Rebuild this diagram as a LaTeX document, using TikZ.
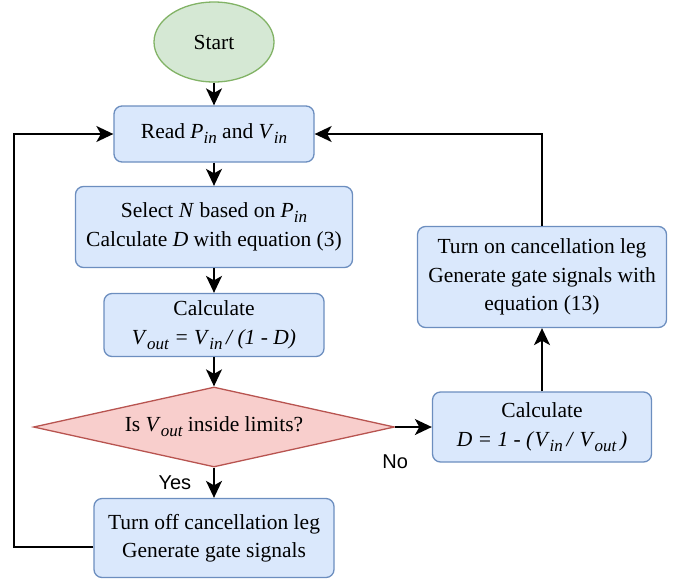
\documentclass[tikz,border=0pt]{standalone}
\usepackage{fontspec}
\setmainfont{Liberation Serif}
\newfontfamily\labelfont{Liberation Sans}
\usetikzlibrary{shapes.geometric,positioning,arrows.meta}
\definecolor{startfill}{HTML}{D5E8D4}
\definecolor{startline}{HTML}{82B366}
\definecolor{boxfill}{HTML}{DAE8FC}
\definecolor{boxline}{HTML}{6C8EBF}
\definecolor{decfill}{HTML}{F8CECC}
\definecolor{decline}{HTML}{B85450}
\newcommand{\vsub}[2]{\textit{#1}\raisebox{-5pt}{\fontsize{17}{17}\selectfont\itshape #2}}

\begin{document}
\begin{tikzpicture}[x=1pt, y=-1pt,
    font=\fontsize{21.5}{28.5}\selectfont,
    startnode/.style={draw=startline, fill=startfill, ellipse, line width=1.3pt, minimum width=120pt, minimum height=80pt},
    stepbox/.style={draw=boxline, fill=boxfill, rectangle, rounded corners=8pt, line width=1.3pt, align=center},
    decnode/.style={draw=decline, fill=decfill, diamond, aspect=4.5, inner sep=0pt, line width=1.3pt, minimum width=361pt, minimum height=80pt},
    flow/.style={line width=1.6pt, -{Stealth[length=17pt, width=16pt, inset=4.5pt]}},
    lbl/.style={font=\labelfont\fontsize{20}{24}\selectfont, inner sep=0pt}]
    \useasboundingbox (0,0) rectangle (684,584);

    % main column
    \node[startnode] (start) at (214,42) {Start};
    \node[stepbox, below of=start, node distance=92pt, minimum width=200pt, minimum height=56pt] (read) {Read \vsub{P}{in} and \vsub{V}{in}};
    \node[stepbox, below of=read, node distance=93pt, minimum width=277pt, minimum height=81pt] (select) {Select \textit{N} based on \vsub{P}{in}\\Calculate \textit{D} with equation (3)};
    \node[stepbox, below of=select, node distance=98pt, minimum width=220pt, minimum height=63pt] (calcvout) {Calculate\\\vsub{V}{out} \textit{= }\vsub{V}{in}\textit{\,/ (1 - D)}};
    \node[decnode, below of=calcvout, node distance=102pt] (check) {Is \vsub{V}{out} inside limits?};
    \node[stepbox, below of=check, node distance=111pt, minimum width=240pt, minimum height=79pt] (legoff) {Turn off cancellation leg\\Generate gate signals};

    % right column
    \node[stepbox, right of=check, node distance=328pt, minimum width=219pt, minimum height=70pt] (calcd) {Calculate\\\textit{D = 1 - (}\vsub{V}{in}\textit{\,/ }\vsub{V}{out}\textit{\,)}};
    \node[stepbox, above of=calcd, node distance=150pt, minimum width=249pt, minimum height=101pt] (legon) {Turn on cancellation leg\\Generate gate signals with\\equation (13)};

    \coordinate (loopl) at (14,340);

    % connections
    \draw[flow] (start) -- (read);
    \draw[flow] (read) -- (select);
    \draw[flow] (select) -- (calcvout);
    \draw[flow] (calcvout) -- (check);
    \draw[flow] (check) -- node[lbl, left=22pt] (yes) {Yes} (legoff);
    \draw[flow] (check.east) -- node[lbl, at start, below=27pt] (no) {No} (calcd.west);
    \draw[flow] (calcd) -- (legon);
    \draw[flow] (legon.north) |- (read.east);
    \draw[flow] ([yshift=-9pt]legoff.west) -| (loopl) |- (read.west);
\end{tikzpicture}
\end{document}
